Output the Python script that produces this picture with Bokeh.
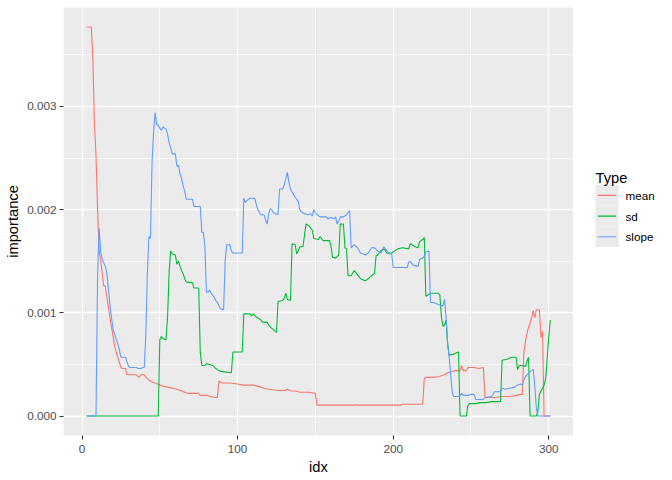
from bokeh.plotting import figure
from bokeh.layouts import row
from bokeh.models import Range1d, FixedTicker, PrintfTickFormatter
from bokeh.core.properties import value
from bokeh.embed import file_html
from bokeh.resources import INLINE

FONT = "Liberation Sans"

types = ["mean", "sd", "slope"]
colors = ["#F8766D", "#00BA38", "#619CFF"]

x_ticks = [0, 100, 200, 300]
x_minor = [50, 150, 250]
y_ticks = [0.0, 0.001, 0.002, 0.003]
y_minor = [0.0005, 0.0015, 0.0025, 0.0035]

mean_idx = [3, 6, 7, 8, 9, 10, 11, 12, 13, 14, 15, 16, 17, 18, 19, 20, 21, 22, 23, 24,
            25, 26, 28, 29, 35, 36, 37, 38, 40, 41, 43, 45, 47, 50, 52, 55, 58, 61, 63, 66,
            68, 75, 76, 81, 82, 86, 87, 88, 90, 95, 100, 104, 110, 113, 117, 120, 125, 130, 132, 134,
            138, 140, 146, 150, 151, 175, 176, 177, 205, 206, 219, 220, 221, 225, 229, 231, 233, 235, 237, 240,
            243, 244, 245, 247, 248, 252, 255, 258, 259, 262, 265, 270, 275, 279, 282, 283, 284, 285, 286, 287,
            288, 289, 290, 291, 292, 293, 294, 295, 296, 297, 301]
mean_imp = [0.00377, 0.00377, 0.00345, 0.00283, 0.00252, 0.00200, 0.00160, 0.00151, 0.00138, 0.00126,
            0.00126, 0.00115, 0.00105, 0.00095, 0.00086, 0.00077, 0.00067, 0.00062, 0.00057, 0.00052,
            0.00047, 0.00046, 0.00046, 0.00040, 0.00040, 0.00038, 0.00038, 0.00040, 0.00040, 0.00038,
            0.00035, 0.00033, 0.00032, 0.00030, 0.00029, 0.00028, 0.00027, 0.00026, 0.00025, 0.00023,
            0.00022, 0.00022, 0.00020, 0.00020, 0.00019, 0.00018, 0.00018, 0.00034, 0.00032, 0.00032,
            0.00031, 0.00030, 0.00030, 0.00029, 0.00027, 0.00026, 0.00025, 0.000245, 0.00026, 0.000245,
            0.00024, 0.00023, 0.00023, 0.00022, 0.000106, 0.000106, 0.00011, 0.000106, 0.000106, 0.000115,
            0.000115, 0.00036, 0.000375, 0.000375, 0.00038, 0.00039, 0.00040, 0.00042, 0.00043, 0.00044,
            0.00044, 0.00049, 0.00044, 0.00044, 0.00047, 0.00047, 0.00046, 0.00047, 0.00018, 0.00018,
            0.00018, 0.00019, 0.00019, 0.00020, 0.00021, 0.00021, 0.00062, 0.00072, 0.00080, 0.00086,
            0.00090, 0.00095, 0.00102, 0.00095, 0.00103, 0.00103, 0.00103, 0.00076, 0.00082, 0.0,
            0.0]

sd_idx = [3, 49, 50, 51, 52, 54, 55, 56, 57, 58, 60, 61, 62, 63, 64, 65, 66, 67, 71, 72,
          75, 76, 77, 79, 80, 82, 84, 86, 88, 90, 96, 97, 103, 104, 108, 109, 110, 112, 115, 116,
          119, 120, 122, 125, 126, 129, 130, 131, 132, 134, 135, 137, 138, 140, 142, 143, 144, 146, 148, 149,
          152, 153, 155, 159, 160, 161, 163, 165, 166, 168, 169, 170, 171, 173, 175, 177, 179, 182, 184, 186,
          188, 189, 190, 192, 194, 196, 198, 199, 201, 203, 206, 210, 211, 212, 214, 216, 217, 219, 220, 221,
          222, 224, 229, 230, 231, 232, 233, 234, 235, 236, 239, 242, 243, 247, 248, 249, 253, 256, 260, 263,
          269, 270, 273, 276, 279, 280, 281, 283, 285, 286, 287, 288, 292, 293, 294, 295, 296, 297, 298, 299,
          300, 301]
sd_imp = [0.0, 0.0, 0.00074, 0.00077, 0.00075, 0.00074, 0.00096, 0.00140, 0.00160, 0.00157,
          0.00156, 0.00147, 0.00150, 0.00145, 0.00141, 0.00138, 0.00133, 0.00130, 0.00129, 0.00124,
          0.00124, 0.00062, 0.00049, 0.00049, 0.00051, 0.00050, 0.00049, 0.00046, 0.00044, 0.00043,
          0.00042, 0.00062, 0.00062, 0.00099, 0.00099, 0.00097, 0.00099, 0.00096, 0.00093, 0.00091,
          0.00091, 0.00088, 0.00085, 0.00081, 0.00111, 0.00112, 0.00114, 0.00119, 0.00113, 0.00112,
          0.00167, 0.00166, 0.00157, 0.00164, 0.00164, 0.00175, 0.00186, 0.00184, 0.00180, 0.00172,
          0.00171, 0.00174, 0.00170, 0.00170, 0.00165, 0.00154, 0.00153, 0.00156, 0.00186, 0.00186,
          0.00163, 0.00162, 0.00136, 0.00136, 0.00141, 0.00137, 0.00133, 0.00131, 0.00133, 0.00136,
          0.00138, 0.00155, 0.00156, 0.00160, 0.00162, 0.00158, 0.00157, 0.00158, 0.00160, 0.00162,
          0.00163, 0.00162, 0.00167, 0.00166, 0.00164, 0.00163, 0.00169, 0.00171, 0.00173, 0.00116,
          0.00117, 0.00119, 0.00119, 0.00117, 0.00096, 0.00087, 0.00088, 0.00093, 0.00070, 0.00059,
          0.00060, 0.00062, 0.0, 0.0, 0.00010, 0.00012, 0.00012, 0.00013, 0.00013, 0.00014,
          0.00014, 0.00054, 0.00055, 0.00057, 0.00057, 0.00045, 0.00049, 0.00049, 0.00048, 0.00053,
          0.00057, 0.0, 0.0, 0.00004, 0.00021, 0.00024, 0.00027, 0.00030, 0.00036, 0.00055,
          0.00077, 0.00093]

slope_idx = [3, 9, 10, 11, 12, 13, 15, 16, 17, 18, 19, 20, 21, 22, 23, 24, 25, 28, 29, 30,
             31, 35, 36, 38, 39, 40, 41, 42, 43, 44, 45, 46, 47, 48, 49, 50, 51, 52, 54, 55,
             56, 57, 58, 60, 61, 62, 63, 64, 65, 66, 67, 71, 72, 76, 77, 78, 79, 80, 81, 82,
             83, 85, 86, 87, 88, 89, 91, 92, 93, 95, 96, 97, 103, 104, 105, 106, 108, 111, 112, 113,
             115, 117, 118, 119, 120, 121, 122, 123, 126, 127, 129, 130, 131, 132, 133, 134, 135, 137, 139, 140,
             141, 143, 145, 147, 148, 149, 150, 151, 153, 157, 158, 159, 161, 162, 163, 164, 165, 166, 168, 170,
             172, 173, 175, 177, 179, 182, 184, 186, 188, 190, 192, 194, 195, 197, 199, 200, 209, 210, 211, 213,
             216, 217, 219, 220, 221, 223, 224, 226, 229, 231, 232, 233, 234, 235, 236, 237, 238, 239, 242, 243,
             244, 245, 248, 250, 252, 253, 258, 259, 263, 264, 265, 269, 270, 272, 275, 278, 280, 282, 283, 284,
             285, 286, 287, 288, 289, 290, 291, 292, 293, 301]
slope_imp = [0.0, 0.0, 0.00136, 0.00182, 0.00159, 0.00152, 0.00145, 0.00138, 0.00123, 0.00107,
             0.00095, 0.00084, 0.00079, 0.00074, 0.00070, 0.00064, 0.00057, 0.00057, 0.00052, 0.00048,
             0.00047, 0.00047, 0.00046, 0.00046, 0.00047, 0.00047, 0.00078, 0.00138, 0.00174, 0.00172,
             0.00245, 0.00275, 0.00294, 0.00282, 0.00282, 0.00279, 0.00277, 0.00280, 0.00278, 0.00273,
             0.00265, 0.00260, 0.00254, 0.00254, 0.00242, 0.00243, 0.00235, 0.00230, 0.00223, 0.00218,
             0.00210, 0.00210, 0.00203, 0.00203, 0.00178, 0.00178, 0.00164, 0.00120, 0.00120, 0.00122,
             0.00119, 0.00115, 0.00112, 0.00110, 0.00107, 0.00104, 0.00103, 0.00150, 0.00166, 0.00166,
             0.00160, 0.00158, 0.00158, 0.00211, 0.00207, 0.00209, 0.00211, 0.00211, 0.00205, 0.00200,
             0.00195, 0.00195, 0.00190, 0.00186, 0.00196, 0.00201, 0.00200, 0.00197, 0.00195, 0.00220,
             0.00220, 0.00224, 0.00230, 0.00236, 0.00226, 0.00220, 0.00217, 0.00212, 0.00208, 0.00200,
             0.00198, 0.00196, 0.00195, 0.00196, 0.00194, 0.00200, 0.00197, 0.00195, 0.00193, 0.00193,
             0.00191, 0.00192, 0.00192, 0.00191, 0.00193, 0.00186, 0.00189, 0.00193, 0.00193, 0.00195,
             0.00199, 0.00163, 0.00166, 0.00163, 0.00158, 0.00156, 0.00158, 0.00163, 0.00163, 0.00160,
             0.00158, 0.00164, 0.00162, 0.00158, 0.00158, 0.00144, 0.00144, 0.00149, 0.00150, 0.00146,
             0.00145, 0.00152, 0.00153, 0.00155, 0.00159, 0.00160, 0.00110, 0.00110, 0.00108, 0.00107,
             0.00107, 0.00113, 0.00096, 0.00070, 0.00056, 0.00040, 0.00022, 0.00019, 0.00019, 0.00020,
             0.00022, 0.00020, 0.00020, 0.00021, 0.00021, 0.00016, 0.00016, 0.00018, 0.00019, 0.00020,
             0.000235, 0.000235, 0.00027, 0.00026, 0.00027, 0.00028, 0.00030, 0.00031, 0.00030, 0.00035,
             0.00038, 0.00040, 0.00041, 0.00043, 0.00044, 0.00045, 0.00030, 0.00008, 0.0, 0.0]

series = [(mean_idx, mean_imp), (sd_idx, sd_imp), (slope_idx, slope_imp)]

# ggplot-like 5% expansion of the data extent
all_x = mean_idx + sd_idx + slope_idx
all_y = mean_imp + sd_imp + slope_imp
xmin, xmax = min(all_x), max(all_x)
ymin, ymax = min(all_y), max(all_y)
xpad = 0.05 * (xmax - xmin)
ypad = 0.05 * (ymax - ymin)

p = figure(width=573, height=478, output_backend="svg", toolbar_location=None,
           x_range=Range1d(xmin - xpad, xmax + xpad),
           y_range=Range1d(ymin - ypad, ymax + ypad),
           min_border_left=63, min_border_right=0, min_border_top=7, min_border_bottom=43)
p.background_fill_color = "#EBEBEB"
p.border_fill_color = "white"
p.outline_line_color = None

p.xaxis.ticker = FixedTicker(ticks=x_ticks, minor_ticks=x_minor)
p.yaxis.ticker = FixedTicker(ticks=y_ticks, minor_ticks=y_minor)
p.yaxis.formatter = PrintfTickFormatter(format="%.3f")
p.xaxis.axis_label = "idx"
p.yaxis.axis_label = "importance"
for ax in (p.xaxis, p.yaxis):
    ax.axis_line_color = None
    ax.major_tick_line_color = "#333333"
    ax.major_tick_line_width = 1.1
    ax.major_tick_in = 0
    ax.major_tick_out = 4
    ax.minor_tick_line_color = None
    ax.major_label_text_font = FONT
    ax.major_label_text_font_size = "11.7px"
    ax.major_label_text_color = "#4D4D4D"
    ax.axis_label_text_font = FONT
    ax.axis_label_text_font_size = "14.7px"
    ax.axis_label_text_font_style = "normal"
    ax.axis_label_text_color = "black"
p.xaxis.major_label_standoff = 5
p.xaxis.axis_label_standoff = 3
p.yaxis.major_label_standoff = 3
p.yaxis.axis_label_standoff = 3

for g in (p.xgrid, p.ygrid):
    g.grid_line_color = "white"
    g.grid_line_width = 1.3
    g.minor_grid_line_color = "white"
    g.minor_grid_line_width = 0.65

for (xs, ys), c in zip(series, colors):
    p.line(xs, ys, line_color=c, line_width=1.1)

# legend panel (ggplot-style, to the right of the plot)
LW, LH = 97, 478
lg = figure(width=LW, height=LH, output_backend="svg", toolbar_location=None,
            x_range=Range1d(0, LW), y_range=Range1d(LH, 0),
            x_axis_type=None, y_axis_type=None, min_border=0)
lg.outline_line_color = None
lg.background_fill_color = "white"
lg.border_fill_color = "white"
for g in lg.grid:
    g.visible = False

key_top = 198.3
key_h = 23.1
tops = [key_top + i * key_h for i in range(len(types))]
bots = [t + key_h for t in tops]
mids = [t + key_h / 2 for t in tops]
lg.quad(left=22, right=45, top=tops, bottom=bots, fill_color="#EBEBEB", line_color=None)
lg.segment(x0=24.3, x1=42.7, y0=mids, y1=mids, line_color=colors, line_width=1.1)
lg.text(x=[52] * len(types), y=mids, text=types, text_font=value(FONT),
        text_font_size="11.7px", text_color="black", text_baseline="middle", text_align="left")
lg.text(x=[22], y=[190], text=["Type"], text_font=value(FONT),
        text_font_size="14.7px", text_color="black", text_baseline="alphabetic", text_align="left")

layout = row(p, lg)
open("out.html", "w").write(file_html(layout, INLINE))
